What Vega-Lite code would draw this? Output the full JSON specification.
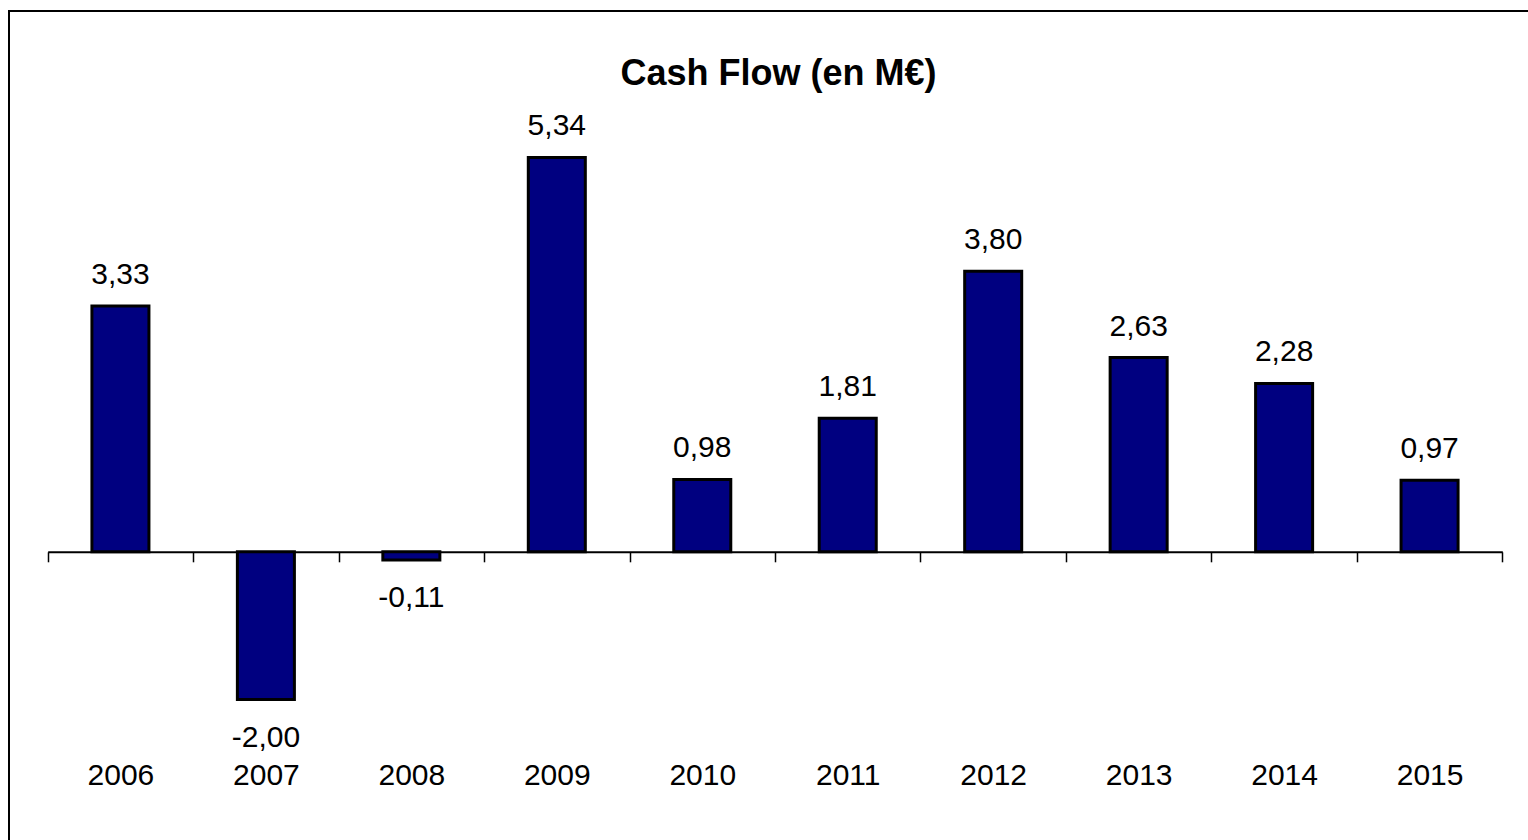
{
  "$schema": "https://vega.github.io/schema/vega-lite/v6.json",
  "autosize": "none",
  "width": 1519,
  "height": 829,
  "padding": {"left": 9, "top": 11, "right": 0, "bottom": 0},
  "background": "white",
  "title": {
    "text": "Cash Flow (en M€)",
    "font": "Liberation Sans",
    "fontSize": 36,
    "fontWeight": "bold",
    "color": "black",
    "anchor": "middle",
    "frame": "group",
    "offset": -82,
    "dx": 10
  },
  "data": {
    "values": [
      {"year": "2006", "value": 3.33},
      {"year": "2007", "value": -2.00},
      {"year": "2008", "value": -0.11},
      {"year": "2009", "value": 5.34},
      {"year": "2010", "value": 0.98},
      {"year": "2011", "value": 1.81},
      {"year": "2012", "value": 3.80},
      {"year": "2013", "value": 2.63},
      {"year": "2014", "value": 2.28},
      {"year": "2015", "value": 0.97}
    ]
  },
  "encoding": {
    "x": {
      "field": "year",
      "type": "ordinal",
      "scale": {"range": [38.7, 1493.3], "paddingInner": 0, "paddingOuter": 0},
      "axis": {
        "title": null,
        "orient": "bottom",
        "offset": -288.2,
        "tickBand": "extent",
        "tickSize": 10,
        "tickWidth": 1.5,
        "tickColor": "black",
        "domainColor": "black",
        "domainWidth": 2,
        "labelFont": "Liberation Sans",
        "labelFontSize": 30,
        "labelColor": "black",
        "labelAngle": 0,
        "labelBaseline": "alphabetic",
        "labelPadding": 223,
        "grid": false
      }
    },
    "y": {
      "field": "value",
      "type": "quantitative",
      "scale": {"domain": [-3.902, 7.323], "nice": false, "zero": false},
      "axis": null
    }
  },
  "layer": [
    {
      "mark": {"type": "bar", "width": {"band": 0.392}, "fill": "#000080", "stroke": "black", "strokeWidth": 3}
    },
    {
      "transform": [{"filter": "datum.value >= 0"}],
      "mark": {"type": "text", "font": "Liberation Sans", "fontSize": 30, "color": "black", "baseline": "alphabetic", "dy": -22},
      "encoding": {"text": {"field": "value", "type": "quantitative", "format": ".2f"}}
    },
    {
      "transform": [{"filter": "datum.value < 0"}],
      "mark": {"type": "text", "font": "Liberation Sans", "fontSize": 30, "color": "black", "baseline": "alphabetic", "dy": 47},
      "encoding": {"text": {"field": "value", "type": "quantitative", "format": ".2f"}}
    }
  ],
  "config": {
    "locale": {"number": {"decimal": ",", "thousands": " ", "grouping": [3], "currency": ["", " €"], "minus": "-"}},
    "view": {"stroke": "black", "strokeWidth": 2, "strokeDash": [1520, 2347, 830, 10]}
  }
}
